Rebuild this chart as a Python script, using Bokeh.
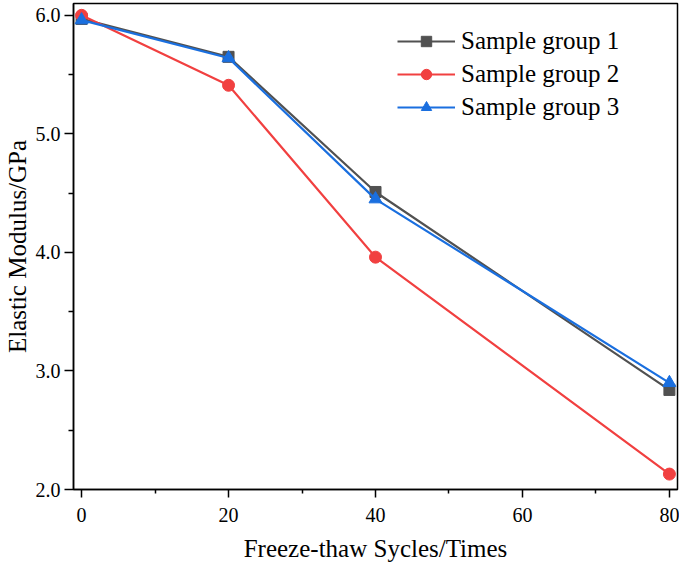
from bokeh.plotting import figure
from bokeh.models import Range1d, FixedTicker, NumeralTickFormatter, Legend, LegendItem
from bokeh.embed import file_html
from bokeh.resources import INLINE

cycles = [0, 20, 40, 80]
group1 = [5.97, 5.65, 4.51, 2.84]
group2 = [6.00, 5.41, 3.96, 2.13]
group3 = [5.96, 5.64, 4.45, 2.90]
names = ["Sample group 1", "Sample group 2", "Sample group 3"]
colors = ["#515151", "#F14040", "#1A6FDF"]
x_ticks = [0, 20, 40, 60, 80]
y_ticks = [2.0, 3.0, 4.0, 5.0, 6.0]

FONT = "Liberation Serif"

p = figure(frame_width=604, frame_height=486, output_backend="svg", toolbar_location=None,
           x_range=Range1d(-1.1, 81.1), y_range=Range1d(2.0, 6.1),
           min_border_left=10, min_border_right=2, min_border_top=3, min_border_bottom=74)

p.grid.visible = False
p.outline_line_color = "black"
p.outline_line_width = 1.5
p.background_fill_color = "white"
p.border_fill_color = "white"

for ax in (p.xaxis[0], p.yaxis[0]):
    ax.axis_line_width = 1.5
    ax.major_tick_line_width = 1.5
    ax.minor_tick_line_width = 1.5
    ax.major_tick_in = 0
    ax.minor_tick_in = 0
    ax.major_tick_out = 8
    ax.minor_tick_out = 4
    ax.major_label_text_font = FONT
    ax.major_label_text_font_size = "20px"
    ax.major_label_text_color = "black"
    ax.axis_label_text_font = FONT
    ax.axis_label_text_font_size = "25px"
    ax.axis_label_text_font_style = "normal"
    ax.axis_label_text_color = "black"

p.yaxis.major_tick_out = 9
p.yaxis.minor_tick_out = 5
p.xaxis.ticker = FixedTicker(ticks=x_ticks, minor_ticks=[10, 30, 50, 70])
p.yaxis.ticker = FixedTicker(ticks=y_ticks, minor_ticks=[2.5, 3.5, 4.5, 5.5])
p.yaxis.formatter = NumeralTickFormatter(format="0.0")
p.xaxis.axis_label = "Freeze-thaw Sycles/Times"
p.yaxis.axis_label = "Elastic Modulus/GPa"
p.xaxis.major_label_standoff = 10
p.xaxis.axis_label_standoff = 10
p.yaxis.major_label_standoff = 4
p.yaxis.axis_label_standoff = 2

items = []
l1 = p.line(cycles, group1, line_color=colors[0], line_width=2.2)
m1 = p.scatter(cycles, group1, marker="square", size=11, fill_color=colors[0], line_color=colors[0])
items.append(LegendItem(label=names[0], renderers=[l1, m1]))
l2 = p.line(cycles, group2, line_color=colors[1], line_width=2.2)
m2 = p.scatter(cycles, group2, marker="circle", size=12, fill_color=colors[1], line_color=colors[1])
items.append(LegendItem(label=names[1], renderers=[l2, m2]))
l3 = p.line(cycles, group3, line_color=colors[2], line_width=2.2)
m3 = p.scatter(cycles, group3, marker="triangle", size=13, fill_color=colors[2], line_color=colors[2])
items.append(LegendItem(label=names[2], renderers=[l3, m3]))

legend = Legend(items=items, location=(324, 368))
legend.border_line_color = None
legend.background_fill_alpha = 0
legend.padding = 0
legend.margin = 0
legend.spacing = 5
legend.glyph_width = 58
legend.glyph_height = 26
legend.label_height = 26
legend.label_standoff = 6
legend.label_text_font = FONT
legend.label_text_font_size = "25px"
legend.label_text_color = "black"
p.add_layout(legend)

open("out.html", "w").write(file_html(p, INLINE))
